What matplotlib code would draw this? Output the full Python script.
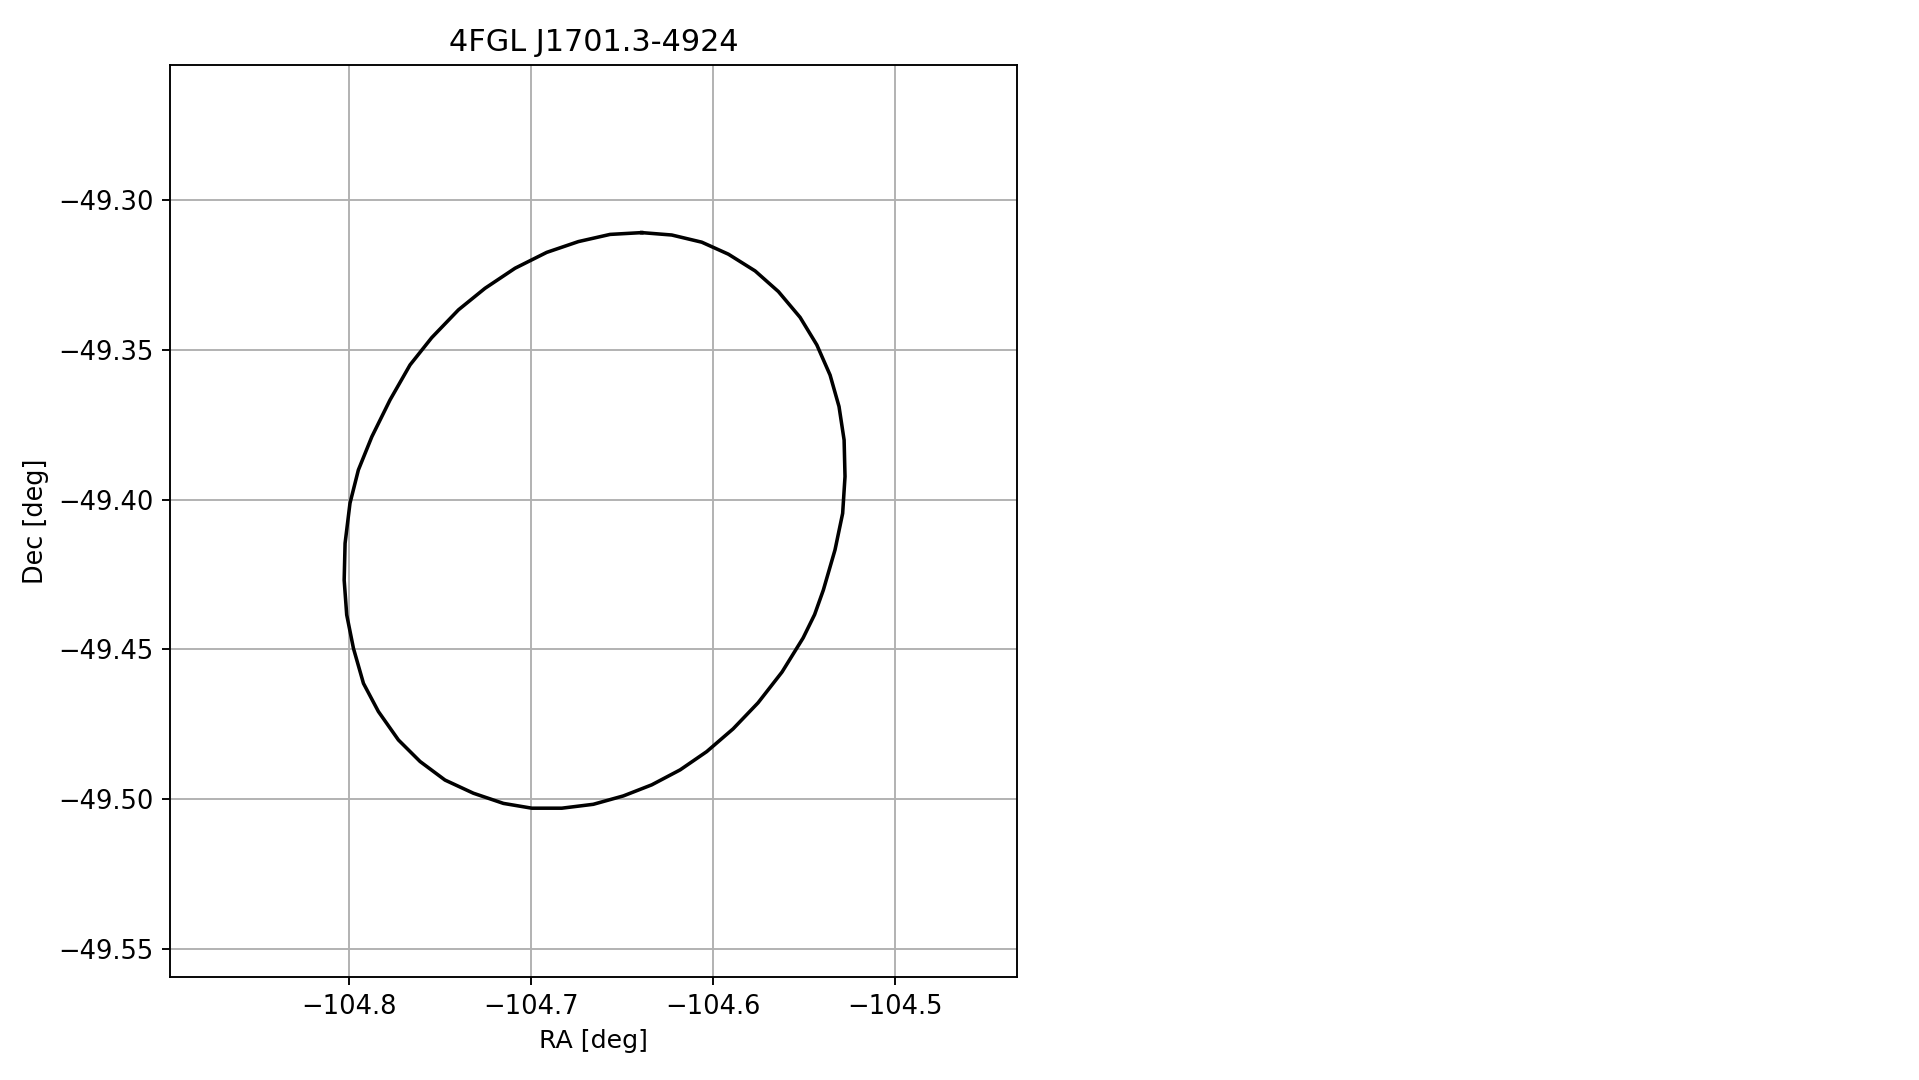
import matplotlib
matplotlib.use("Agg")
import matplotlib.pyplot as plt

title = "4FGL J1701.3-4924"
x_label = "RA [deg]"
y_label = "Dec [deg]"

ra_deg = [
    -104.6392, -104.6566, -104.6740, -104.6914, -104.7088, -104.7253, -104.7399,
    -104.7546, -104.7665, -104.7775, -104.7875, -104.7949, -104.7995, -104.8022,
    -104.8027, -104.8013, -104.7976, -104.7921, -104.7839, -104.7729, -104.7610,
    -104.7473, -104.7317, -104.7152, -104.6996, -104.6831, -104.6658, -104.6493,
    -104.6337, -104.6181, -104.6035, -104.5890, -104.5753, -104.5621, -104.5505,
    -104.5442, -104.5394, -104.5330, -104.5288, -104.5275, -104.5280, -104.5308,
    -104.5357, -104.5430, -104.5522, -104.5641, -104.5769, -104.5916, -104.6062,
    -104.6227, -104.6392,
]
dec_deg = [
    -49.3108, -49.3114, -49.3138, -49.3174, -49.3227, -49.3294, -49.3366,
    -49.3459, -49.3550, -49.3667, -49.3790, -49.3901, -49.4012, -49.4146,
    -49.4269, -49.4385, -49.4497, -49.4614, -49.4708, -49.4803, -49.4875,
    -49.4937, -49.4981, -49.5015, -49.5031, -49.5031, -49.5018, -49.4990,
    -49.4953, -49.4903, -49.4842, -49.4766, -49.4679, -49.4576, -49.4462,
    -49.4384, -49.4302, -49.4168, -49.4046, -49.3923, -49.3801, -49.3689,
    -49.3584, -49.3483, -49.3391, -49.3305, -49.3236, -49.3180, -49.3140,
    -49.3116, -49.3108,
]

x_ticks = [-104.8, -104.7, -104.6, -104.5]
y_ticks = [-49.55, -49.50, -49.45, -49.40, -49.35, -49.30]
x_limits = (-104.8984, -104.4330)
y_limits = (-49.5595, -49.2548)

DPI = 170
fig = plt.figure(figsize=(1919 / DPI, 1080 / DPI), dpi=DPI)
ax = fig.add_axes([170 / 1919, 1 - 977 / 1080, (1017 - 170) / 1919, (977 - 65) / 1080])

ax.plot(ra_deg, dec_deg, color="black", lw=1.5)
ax.set_xlim(*x_limits)
ax.set_ylim(*y_limits)
ax.set_xticks(x_ticks)
ax.set_yticks(y_ticks)
ax.tick_params(labelsize=10.9)
ax.grid(True)
ax.set_axisbelow(True)
ax.set_title(title, fontsize=12.8)
ax.set_xlabel(x_label, fontsize=10.7)
ax.set_ylabel(y_label, fontsize=10.8)

fig.savefig("out.png", dpi=DPI)
